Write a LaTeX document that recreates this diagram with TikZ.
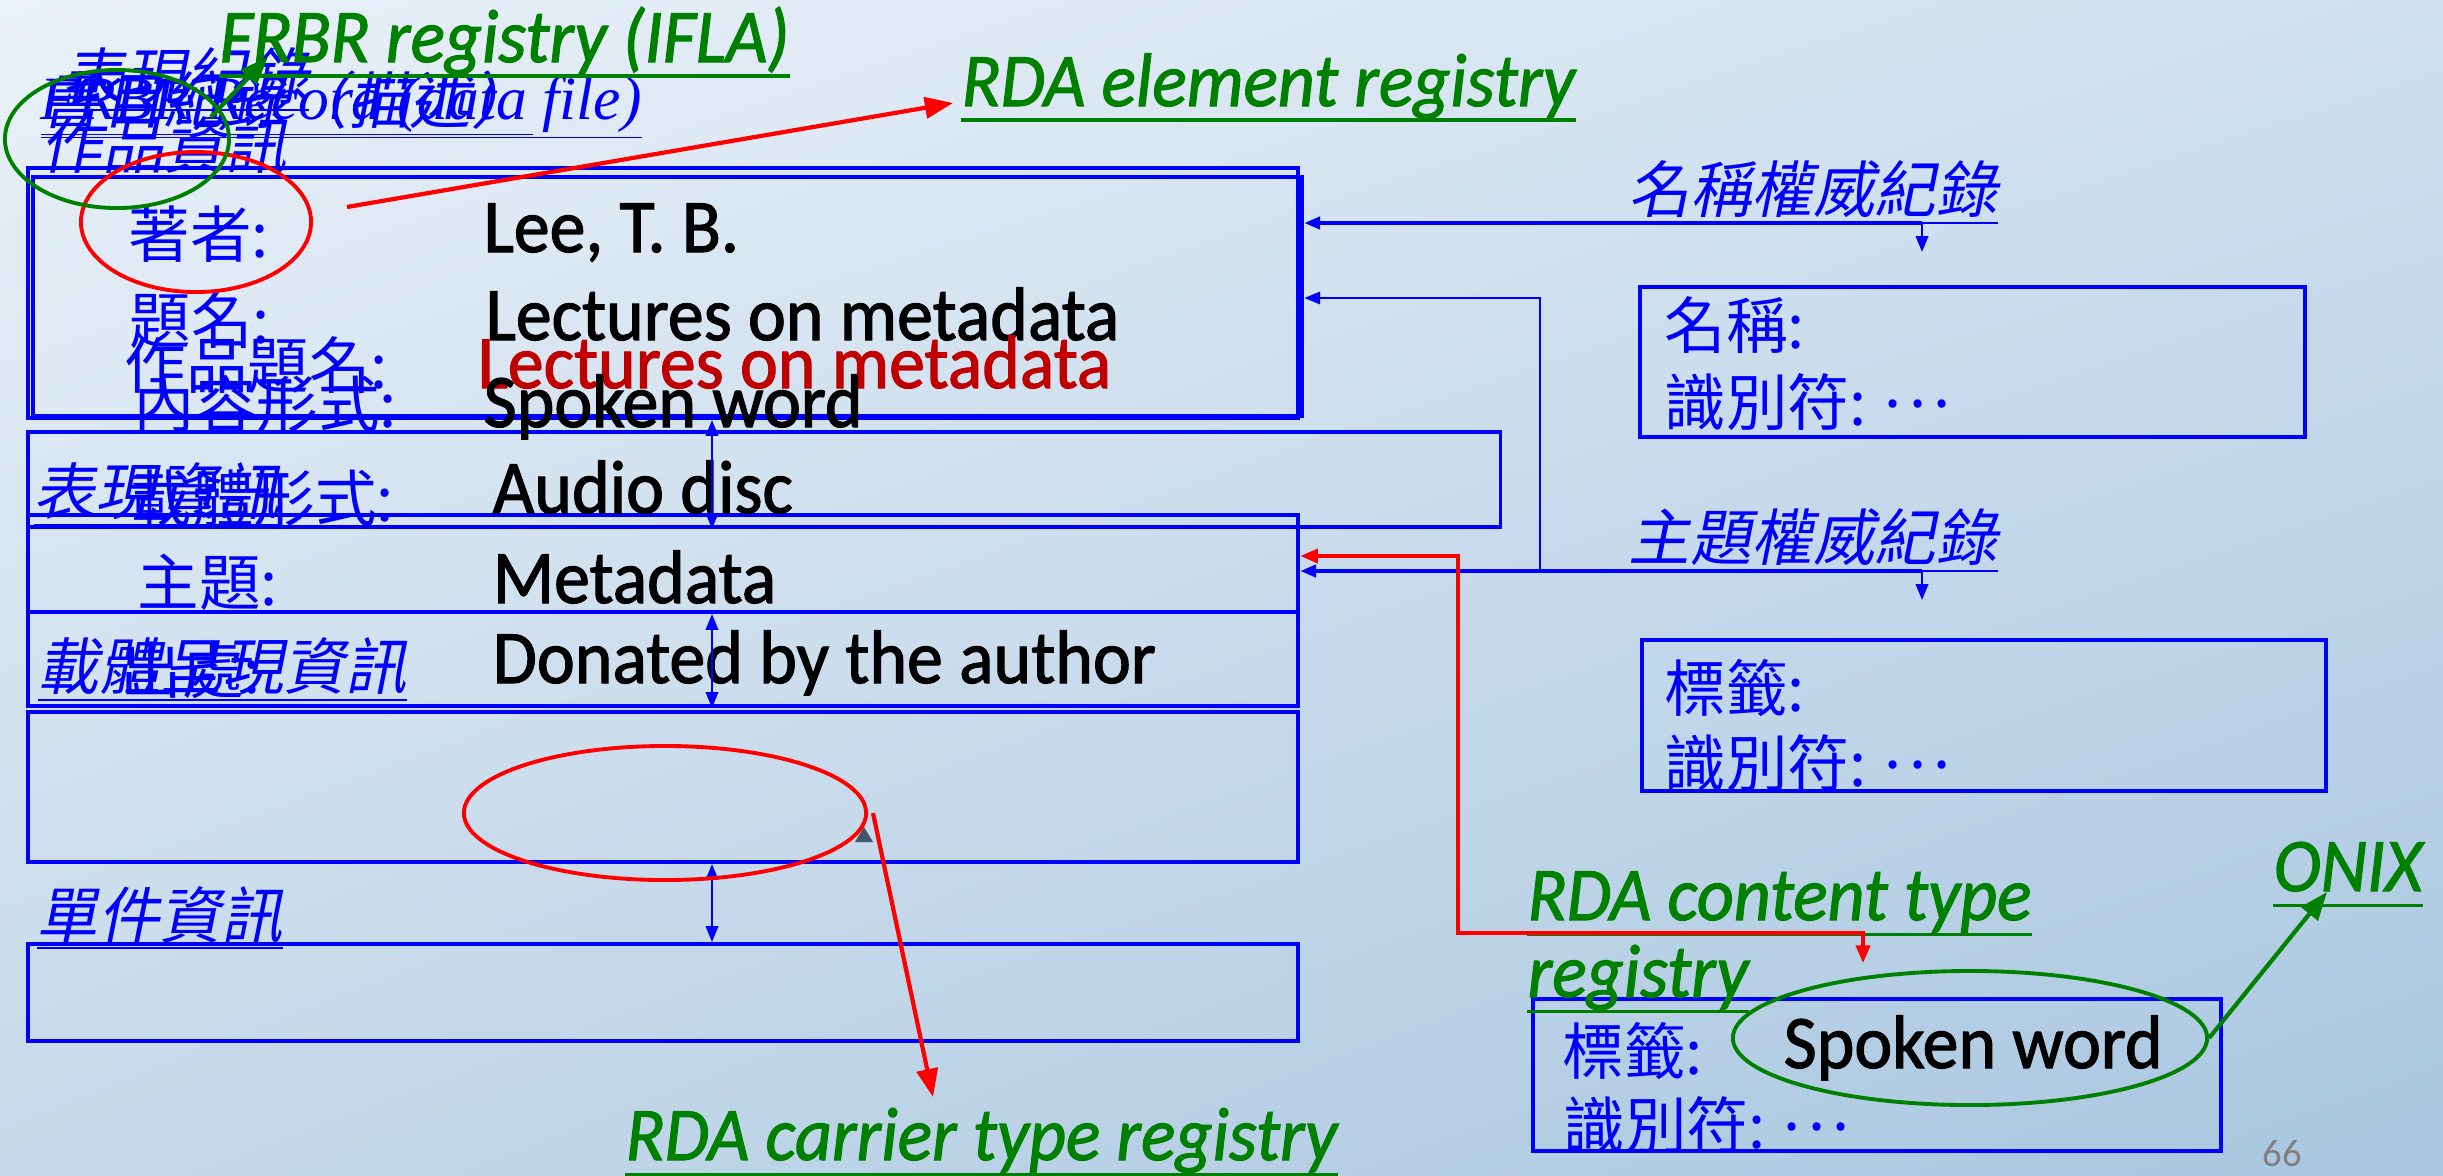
\documentclass[tikz,border=0pt]{standalone}
\usepackage{fontspec}
\usepackage{tikz}
\usetikzlibrary{arrows.meta,shapes.geometric,shadings}

\newfontfamily\cjk{Noto Sans CJK TC}
\newfontfamily\cjkit[FakeSlant=0.2]{Noto Sans CJK TC}
\newfontfamily\latit{Liberation Serif}
\newfontfamily\valfont[FakeStretch=0.95,FakeBold=1.5]{Carlito}
\newfontfamily\pagefont{Carlito}

\definecolor{bgTL}{RGB}{234,241,248}
\definecolor{bgTR}{RGB}{208,224,239}
\definecolor{bgBL}{RGB}{198,217,234}
\definecolor{bgBR}{RGB}{168,198,224}
\definecolor{regGreen}{RGB}{0,128,0}
\definecolor{darkRed}{RGB}{192,0,0}
\definecolor{pageGrey}{RGB}{128,128,128}
\definecolor{tipSlate}{RGB}{68,84,106}

\newcommand{\midots}{\hspace{0.3em}\raisebox{0.3em}{.\hspace{0.12em}.\hspace{0.12em}.}}

\tikzset{
  box/.style={draw=blue, line width=1.1pt, inner sep=0pt},
  lab/.style={anchor=west, inner sep=0pt, text=blue, font=\cjk\fontsize{17.5}{20}\selectfont},
  hd/.style={anchor=west, inner sep=0pt, text=blue, font=\cjkit\fontsize{17.5}{20}\selectfont},
  val/.style={anchor=base west, inner sep=0pt, font=\valfont\fontsize{21.5}{24}\selectfont},
  reg/.style={anchor=base west, inner sep=0pt, text depth=3.9pt, text=regGreen,
    font=\valfont\itshape\fontsize{21.5}{24}\selectfont,
    append after command={(\tikzlastnode.south west) edge[draw=regGreen, line width=1.1pt] (\tikzlastnode.south east)}},
  ring/.style={draw=#1, ellipse, line width=1.1pt, inner sep=0pt},
  link/.style={draw=blue, line width=0.7pt},
  tip/.style={-{Triangle[length=4.5pt,width=3.5pt]}},
  bigtip/.style={-{Triangle[length=8pt,width=6pt]}}
}

\begin{document}
\begin{tikzpicture}[x=0.01cm, y=-0.01cm]
  \useasboundingbox (0,0) rectangle (2443,1175);
  \shade[upper left=bgTL, upper right=bgTR, lower left=bgBL, lower right=bgBR] (0,0) rectangle (2443,1175);

  % record boxes
  \node (work) at (663,293) [box, minimum width=12.70cm, minimum height=2.50cm] {};
  \node (workB) at (667.5,296.5) [box, minimum width=12.69cm, minimum height=2.39cm] {};
  \node (expr) at (764,479.5) [box, minimum width=14.72cm, minimum height=0.95cm] {};
  \node (exprB) at (663,563.5) [box, minimum width=12.70cm, minimum height=0.97cm] {};
  \node (manif) at (663,659) [box, minimum width=12.70cm, minimum height=0.94cm] {};
  \node (manifB) at (663,787) [box, minimum width=12.70cm, minimum height=1.50cm] {};
  \node (item) at (663,992.5) [box, minimum width=12.70cm, minimum height=0.97cm] {};
  \node (nameBox) at (1972.5,362) [box, minimum width=6.65cm, minimum height=1.50cm] {};
  \node (subjBox) at (1984,715.5) [box, minimum width=6.84cm, minimum height=1.51cm] {};
  \node (ctBox) at (1877,1075) [box, minimum width=6.88cm, minimum height=1.52cm] {};

  % headings, overlapping as on the slide
  \node (exprRec) at (62,80) [hd] {\underline{表現紀錄}};
  \node (bibRec) at (40,104) [hd] {\underline{書目紀錄（描述）}};
  \node (frbrRec) at (40,108) [hd] {\underline{{\latit\itshape FRBR Record (data file)}}};
  \node (workHd) at (40,148) [hd] {\underline{作品資訊}};
  \node (exprHd) at (33,495) [hd] {\underline{表現資訊}};
  \node (manifHd) at (37,670) [hd] {\underline{載體呈現資訊}};
  \node (itemHd) at (36,918) [hd] {\underline{單件資訊}};
  \node (nameHd) at (1628,193) [hd] {\underline{名稱權威紀錄}};
  \node (subjHd) at (1628,541) [hd] {\underline{主題權威紀錄}};

  % element labels
  \node (authorLab) at (128,234) [lab] {著者:};
  \node (titleLab) at (129,320) [lab] {題名:};
  \node (workTitleLab) at (124,365) [lab] {作品題名:};
  \node (contentLab) at (133,404) [lab] {內容形式:};
  \node (carrierLab) at (130,498) [lab] {載體形式:};
  \node (subjectLab) at (137,582) [lab] {主題:};
  \node (sourceLab) at (120,670) [lab] {出處:};
  \node (nameLab) at (1664,325) [lab] {名稱:};
  \node (nameId) at (1664,402) [lab] {識別符:\midots};
  \node (subjLab) at (1664,688) [lab] {標籤:};
  \node (subjId) at (1664,763) [lab] {識別符:\midots};
  \node (ctLab) at (1562,1051) [lab] {標籤:};
  \node (ctId) at (1563,1125) [lab] {識別符:\midots};

  % values
  \node (authorVal) at (483,252) [val] {Lee, T. B.};
  \node (titleVal) at (485,340) [val] {Lectures on metadata};
  \node (workTitleVal) at (477,388) [val, text=darkRed] {Lectures on metadata};
  \node (contentVal) at (483,427) [val] {Spoken word};
  \node (carrierVal) at (492,513) [val] {Audio disc};
  \node (subjectVal) at (492,603) [val] {Metadata};
  \node (sourceVal) at (492,683) [val] {Donated by the author};
  \node (ctVal) at (1783,1068) [val] {Spoken word};

  % registries
  \node (frbrReg) at (219,62) [reg] {FRBR registry (IFLA)};
  \node (elemReg) at (961,106) [reg] {RDA element registry};
  \node (ctReg) at (1527,920) [reg] {RDA content type};
  \node (ctRegB) at (1527,997) [reg] {registry};
  \node (onix) at (2273,891) [reg] {ONIX};
  \node (carrierReg) at (625,1160) [reg] {RDA carrier type registry};
  \node (pageNo) at (2262,1166) [anchor=base west, inner sep=0pt, text=pageGrey, font=\pagefont\fontsize{11}{12}\selectfont] {66};

  % links between the boxes
  \coordinate (stem) at (712,0);
  \draw[link, {Triangle[length=4.5pt,width=3.5pt]}-{Triangle[length=4.5pt,width=3.5pt]}] (work.south -| stem) -- (expr.south -| stem);
  \draw[link, {Triangle[length=4.5pt,width=3.5pt]}-{Triangle[length=4.5pt,width=3.5pt]}] (exprB.south -| stem) -- (manif.south -| stem);
  \draw[link, {Triangle[length=4.5pt,width=3.5pt]}-{Triangle[length=4.5pt,width=3.5pt]}] (manifB.south -| stem) -- (item.north -| stem);

  % authority links
  \coordinate (nameTurn) at (1922,223);
  \coordinate (nameDown) at (1922,252);
  \coordinate (subjTurn) at (1922,571);
  \coordinate (subjDown) at (1922,600);
  \coordinate (subjRise) at (1540,571);
  \coordinate (titleIn) at (1540,298);
  \draw[link, line width=1pt, tip] (nameTurn) -- (nameTurn -| workB.east);
  \draw[link, tip] (nameTurn) -- (nameDown);
  \draw[link, tip] (subjRise) -- (titleIn) -- (titleIn -| workB.east);
  \draw[link, line width=1pt, tip] (subjTurn) -- (subjTurn -| exprB.east);
  \draw[link, tip] (subjTurn) -- (subjDown);

  \coordinate (ctTop) at (1458,556);
  \coordinate (ctBend) at (1458,933);
  \coordinate (ctRight) at (1863,933);
  \coordinate (ctDown) at (1863,963);
  \draw[draw=red, line width=1pt, {Triangle[length=5pt,width=4pt]}-{Triangle[length=5pt,width=4pt]}] (ctTop -| exprB.east) -- (ctTop) -- (ctBend) -- (ctRight) -- (ctDown);

  % rings and registry arrows
  \node (authorRing) at (196,222) [ring=red, minimum width=2.30cm, minimum height=1.40cm] {};
  \node (frbrRing) at (117,139) [ring=regGreen, minimum width=2.24cm, minimum height=1.38cm] {};
  \node (carrierRing) at (665,813) [ring=red, minimum width=4.02cm, minimum height=1.34cm] {};
  \node (wordRing) at (1970,1038) [ring=regGreen, minimum width=4.74cm, minimum height=1.34cm] {};

  \coordinate (elemFrom) at (347,207);
  \coordinate (elemTip) at (953,103);
  \coordinate (frbrFrom) at (211,117);
  \coordinate (frbrTip) at (268,57);
  \coordinate (carrierFrom) at (873,813);
  \coordinate (carrierTip) at (933,1097);
  \coordinate (onixTip) at (2327,892);
  \draw[draw=red, line width=1.2pt, bigtip] (elemFrom) -- (elemTip);
  \draw[draw=regGreen, line width=1.2pt, bigtip] (frbrFrom) -- (frbrTip);
  \draw[draw=red, line width=1.2pt, bigtip] (carrierFrom) -- (carrierTip);
  \draw[draw=regGreen, line width=1.2pt, bigtip] (wordRing.east) -- (onixTip);

  \fill[tipSlate] (855,842) -- (864,827) -- (873,842) -- cycle;
\end{tikzpicture}
\end{document}
